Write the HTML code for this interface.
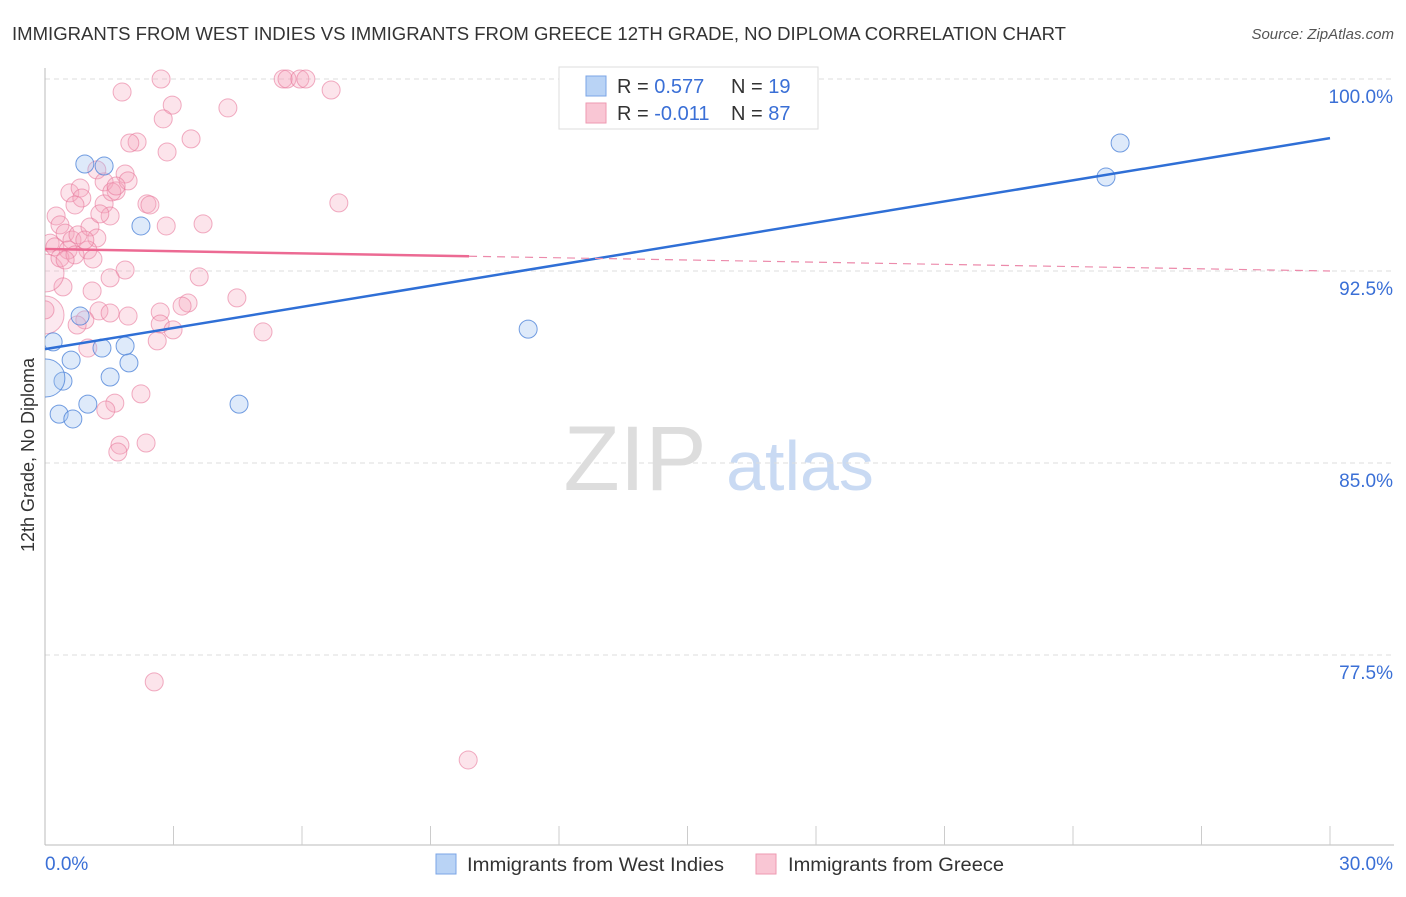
<!DOCTYPE html>
<html><head><meta charset="utf-8"><style>
body{margin:0;background:#fff;font-family:"Liberation Sans",sans-serif;}
svg text{font-family:"Liberation Sans",sans-serif;}
</style></head><body>
<svg width="1406" height="892" id="chart">
<defs><clipPath id="plotclip"><rect x="45" y="60" width="1360" height="786"/></clipPath></defs>
<text x="12" y="40" font-size="18" fill="#333" textLength="1054" lengthAdjust="spacingAndGlyphs">IMMIGRANTS FROM WEST INDIES VS IMMIGRANTS FROM GREECE 12TH GRADE, NO DIPLOMA CORRELATION CHART</text>
<text x="1394" y="39" font-size="15" fill="#555" text-anchor="end" font-style="italic">Source: ZipAtlas.com</text>
<text x="34" y="455" font-size="18" fill="#333" text-anchor="middle" transform="rotate(-90 34 455)">12th Grade, No Diploma</text>
<g>
<text x="635" y="490" font-size="92" fill="#ddd" text-anchor="middle" font-family="Liberation Serif">ZIP</text>
<text x="800" y="490" font-size="70" fill="#c9daf3" text-anchor="middle">atlas</text>
</g>
<g id="grid"></g><g id="axes"></g><g id="pts" clip-path="url(#plotclip)"></g><g id="trends"></g>
<g>
<rect x="559" y="67" width="259" height="62" fill="#fff" stroke="#ddd"/>
<rect x="586" y="76" width="20" height="20" fill="#b9d3f5" stroke="#7ba4e6"/>
<rect x="586" y="103" width="20" height="20" fill="#f9c6d4" stroke="#ee9ab2"/>
<text x="617" y="93" font-size="20" fill="#333">R = <tspan fill="#3a6fd6">0.577</tspan><tspan x="731">N = </tspan><tspan fill="#3a6fd6">19</tspan></text>
<text x="617" y="120" font-size="20" fill="#333">R = <tspan fill="#3a6fd6">-0.011</tspan><tspan x="731">N = </tspan><tspan fill="#3a6fd6">87</tspan></text>
</g>
<g>
<rect x="436" y="854" width="20" height="20" fill="#b9d3f5" stroke="#7ba4e6"/>
<text x="467" y="871" font-size="19" fill="#333" textLength="257" lengthAdjust="spacingAndGlyphs">Immigrants from West Indies</text>
<rect x="756" y="854" width="20" height="20" fill="#f9c6d4" stroke="#ee9ab2"/>
<text x="788" y="871" font-size="19" fill="#333" textLength="216" lengthAdjust="spacingAndGlyphs">Immigrants from Greece</text>
</g>
</svg>
<script>
const xTickLabels=["0.0%","30.0%"];
const yTicks=[100,92.5,85,77.5];
const yTickLabels=["100.0%","92.5%","85.0%","77.5%"];
const blueX=[0.93,1.38,2.24,0.82,0.19,1.33,1.87,0.61,1.52,1.96,0.42,0.02,0.33,1.00,0.65,4.53,11.28,24.77,25.10];
const blueY=[96.68,96.60,94.26,90.74,89.73,89.49,89.57,89.02,88.36,88.91,88.20,88.32,86.91,87.30,86.72,87.30,90.23,96.17,97.50];
const blueBig=[0,0,0,0,0,0,0,0,0,0,0,1,0,0,0,0,0,0,0];
const pinkX=[2.71,5.56,5.65,5.95,6.09,1.80,6.68,2.97,4.27,2.76,2.15,1.98,3.41,2.85,1.21,1.38,1.66,1.87,1.94,0.58,0.82,0.86,0.70,1.38,1.52,2.38,2.45,2.83,3.69,6.86,0.26,0.35,0.47,0.63,0.77,1.05,1.21,0.12,0.23,0.54,1.00,1.12,1.87,1.52,3.60,0.42,1.10,0.00,0.00,4.48,3.34,3.20,2.69,1.26,1.94,1.52,0.93,0.75,2.69,2.99,5.09,2.62,1.00,2.24,1.63,1.42,1.75,2.36,1.70,2.55,9.88,0.35,0.70,0.93,0.47,0.00,1.56,1.66,1.28];
const pinkY=[100,100,100,100,100,99.49,99.57,98.98,98.87,98.44,97.54,97.50,97.66,97.15,96.45,95.98,95.63,96.29,96.02,95.55,95.74,95.35,95.08,95.12,94.65,95.12,95.08,94.26,94.34,95.16,94.65,94.30,93.98,93.71,93.91,94.22,93.79,93.59,93.44,93.32,93.32,92.97,92.54,92.23,92.27,91.88,91.72,92.42,90.78,91.45,91.25,91.13,90.90,90.94,90.74,90.86,90.59,90.39,90.43,90.20,90.12,89.77,89.49,87.70,87.34,87.07,85.70,85.78,85.43,76.45,73.40,93.01,93.13,93.71,92.93,90.98,95.59,95.82,94.73];
const pinkBig=[0,0,0,0,0,0,0,0,0,0,0,0,0,0,0,0,0,0,0,0,0,0,0,0,0,0,0,0,0,0,0,0,0,0,0,0,0,0,0,0,0,0,0,0,0,0,0,1,1,0,0,0,0,0,0,0,0,0,0,0,0,0,0,0,0,0,0,0,0,0,0,0,0,0,0,0,0,0,0];
const blueTrend=[89.45,97.69];
const pinkTrend=[93.36,92.50];
const pinkSolidEnd=9.9;
const NS="http://www.w3.org/2000/svg";
const X=v=>45+v/30*1285, Y=v=>79+(100-v)/7.5*192;
function mk(t,a,p){const e=document.createElementNS(NS,t);for(const k in a)e.setAttribute(k,a[k]);document.getElementById(p).appendChild(e);return e;}
yTicks.forEach((t,i)=>{
 const g=mk('line',{x1:45,x2:1394,y1:Y(t),y2:Y(t),stroke:'#ddd','stroke-dasharray':'5,4'},'grid');
 
 
 const l=mk('text',{x:1393,y:Y(t)+24,'font-size':19,fill:'#3a6fd6','text-anchor':'end'},'axes');l.textContent=yTickLabels[i];
 
 
});
mk('line',{x1:45,x2:45,y1:68,y2:845,stroke:'#bbb'},'axes');
mk('line',{x1:45,x2:1394,y1:845,y2:845,stroke:'#bbb'},'axes');
for(let i=1;i<=10;i++){mk('line',{x1:X(i*3),x2:X(i*3),y1:826,y2:845,stroke:'#ccc'},'axes');}
[0,30].forEach((v,i)=>{const t=mk('text',{x:i?1393:45,y:870,'font-size':19,fill:'#3a6fd6','text-anchor':i?'end':'start'},'axes');t.textContent=xTickLabels[i];
 
 });
function pts(xs,ys,big,fill,bfill,stroke,name){xs.forEach((x,i)=>{const c=mk('circle',{cx:X(x),cy:Y(ys[i]),r:big[i]?19:9,fill:big[i]?bfill:fill,stroke:stroke,'stroke-width':1},'pts');
 
 });}
pts(pinkX,pinkY,pinkBig,'rgba(245,165,190,0.3)','rgba(245,165,190,0.25)','rgba(232,120,155,0.6)','greece-point');
pts(blueX,blueY,blueBig,'rgba(160,195,240,0.35)','rgba(160,195,240,0.3)','rgba(70,125,215,0.75)','west-indies-point');
const bl=mk('line',{x1:X(0),y1:Y(blueTrend[0]),x2:X(30),y2:Y(blueTrend[1]),stroke:'#2f6fd6','stroke-width':2.5},'trends');


const pm=pinkTrend[0]+(pinkTrend[1]-pinkTrend[0])*pinkSolidEnd/30;
const pl=mk('line',{x1:X(0),y1:Y(pinkTrend[0]),x2:X(pinkSolidEnd),y2:Y(pm),stroke:'#ec6a93','stroke-width':2.5},'trends');


const pd=mk('line',{x1:X(pinkSolidEnd),y1:Y(pm),x2:X(30),y2:Y(pinkTrend[1]),stroke:'#ec8aab','stroke-width':1.2,'stroke-dasharray':'8,6'},'trends');


</script>
</body></html>
